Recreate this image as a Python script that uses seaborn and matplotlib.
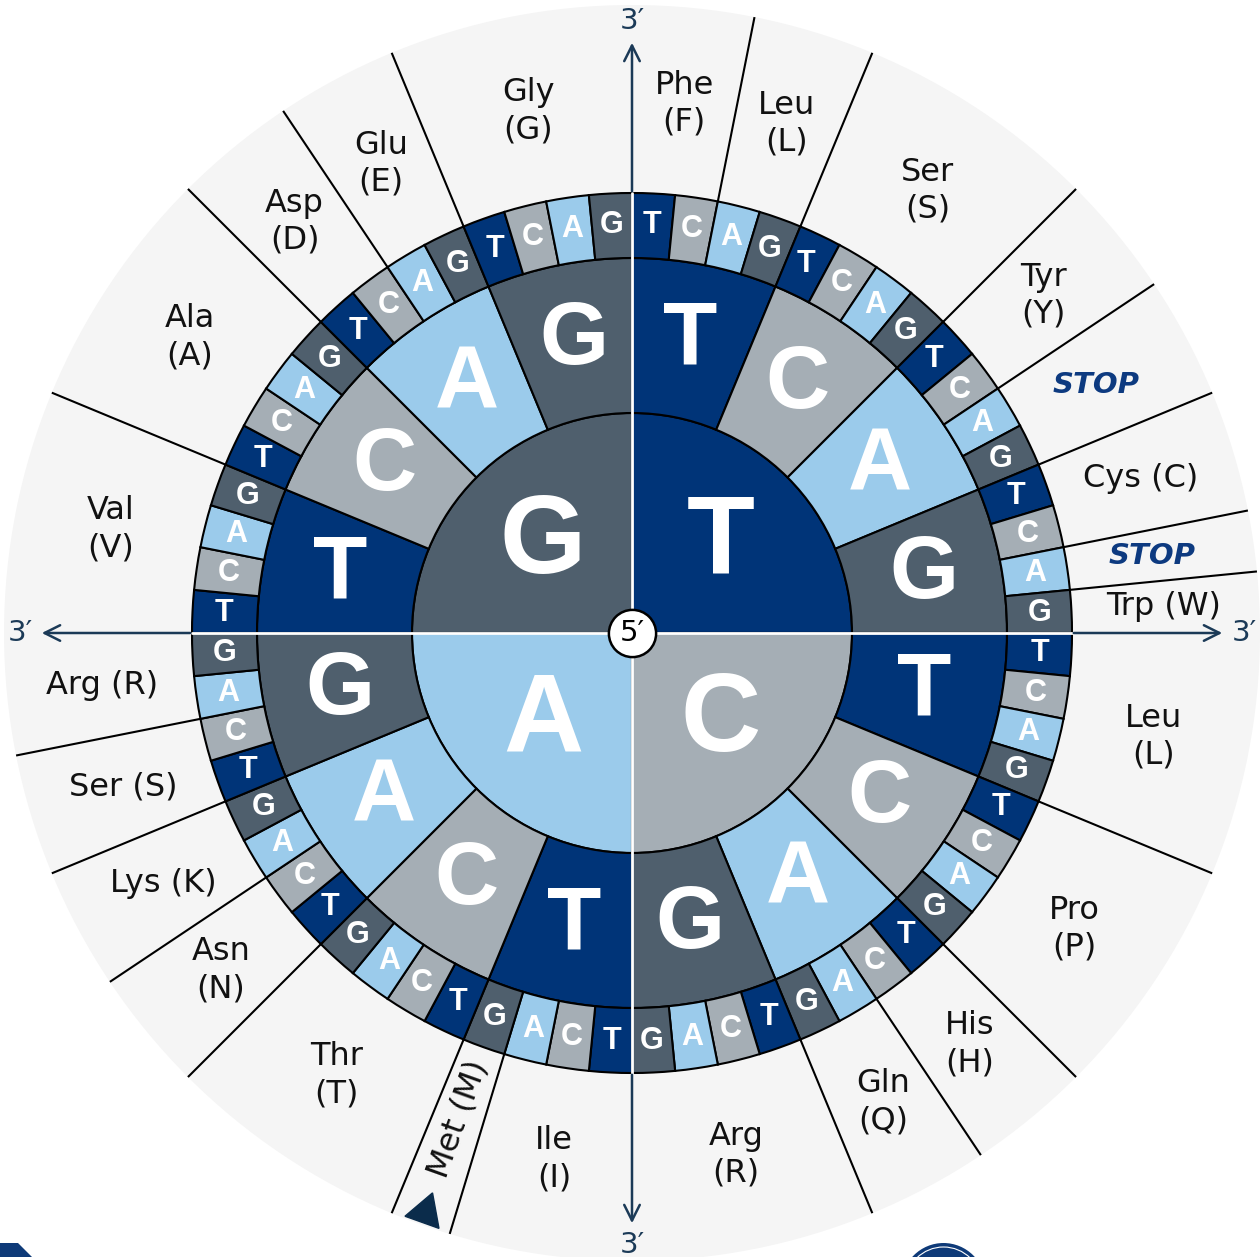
import numpy as np
import matplotlib
matplotlib.use('Agg')
from matplotlib import pyplot as plt
from matplotlib import patches, transforms
import seaborn as sns

# Bases in clockwise order, used for every ring
bases = ['T', 'C', 'A', 'G']
base_colors = sns.color_palette(['#003478', '#a5aeb5', '#9bcbeb', '#4f5f6d'])

# Amino acids clockwise from 12 o'clock, with the number of codons each covers
aa_labels = ['Phe\n(F)', 'Leu\n(L)', 'Ser\n(S)', 'Tyr\n(Y)', 'STOP', 'Cys (C)', 'STOP', 'Trp (W)',
             'Leu\n(L)', 'Pro\n(P)', 'His\n(H)', 'Gln\n(Q)', 'Arg\n(R)',
             'Ile\n(I)', 'Met (M)', 'Thr\n(T)', 'Asn\n(N)', 'Lys (K)', 'Ser (S)', 'Arg (R)',
             'Val\n(V)', 'Ala\n(A)', 'Asp\n(D)', 'Glu\n(E)', 'Gly\n(G)']
aa_codons = [2, 2, 4, 2, 2, 2, 1, 1,
             4, 4, 2, 2, 4,
             3, 1, 4, 2, 2, 2, 2,
             4, 4, 2, 2, 4]

ring1 = bases            # first base
ring2 = bases * 4        # second base
ring3 = bases * 16       # third base

# radii in pixels
r_in, r_mid, r_out, r_edge = 220, 375, 440, 628

navy = '#1b3a57'
stop_color = '#0d3a80'
bg_gray = '#f5f5f5'

sns.set_theme(style='white')
plt.rcParams['font.family'] = ['DejaVu Sans']

fig = plt.figure(figsize=(12.6, 12.57), dpi=100)
ax = fig.add_axes([4 / 1260, -4 / 1257, 1256 / 1260, 1256 / 1257], projection='polar')
ax.set_theta_zero_location('N')
ax.set_theta_direction(-1)
ax.set_rlim(0, r_edge)
ax.set_facecolor(bg_gray)
ax.grid(False)
ax.set_xticks([])
ax.set_yticks([])
ax.spines['polar'].set_visible(False)


def draw_ring(labels, bottom, top, fontsize, r_text):
    n = len(labels)
    width = 2 * np.pi / n
    theta = (np.arange(n) + 0.5) * width
    cols = [base_colors[bases.index(b)] for b in labels]
    ax.bar(theta, top - bottom, width=width, bottom=bottom, color=cols,
           edgecolor='black', linewidth=1.5, zorder=2)
    for t, b in zip(theta, labels):
        ax.text(t, r_text, b, ha='center', va='center', color='white',
                fontsize=fontsize, fontweight='bold', family='Liberation Sans', zorder=5)


draw_ring(ring1, 0, r_in, 80, 126)
draw_ring(ring2, r_in, r_mid, 64, 298)
draw_ring(ring3, r_mid, r_out, 22, 408)

# quadrant lines (white inside the rings) and 3' arrows outside
for q in range(4):
    t = q * np.pi / 2
    ax.plot([t, t], [0, r_out], color='white', lw=2, zorder=3)
    ax.annotate('', xy=(t, 593), xytext=(t, r_out - 1),
                arrowprops=dict(arrowstyle='->', color=navy, lw=1.8, mutation_scale=28),
                zorder=3)
    ax.text(t, 612, '3\u2032', ha='center', va='center', color=navy, fontsize=21, zorder=4)

# amino acid separators and labels
edges = np.concatenate([[0], np.cumsum(aa_codons)])
step = 2 * np.pi / 64
for e in edges[1:-1]:
    if e % 16 != 0:
        ax.plot([e * step, e * step], [r_out, r_edge], color='black', lw=1.5, zorder=2)

for lab, a, b in zip(aa_labels, edges[:-1], edges[1:]):
    t = (a + b) / 2 * step
    if lab == 'STOP':
        ax.text(t, 526, lab, ha='center', va='center', color=stop_color, fontsize=21,
                fontweight='bold', fontstyle='italic', zorder=4)
    elif lab.startswith('Met'):
        rot = 270 - np.degrees(t)
        ax.text(t, 516, lab, ha='center', va='center', rotation=rot, rotation_mode='anchor',
                fontsize=23, color='#111111', zorder=4)
        ax.plot(t, 615, marker=(3, 0, rot - 90), ms=30, color='#0b2c4b', zorder=4)
    else:
        ax.text(t, 532, lab, ha='center', va='center', multialignment='center',
                fontsize=23, color='#111111', linespacing=1.25, zorder=4)

# 5' marker in the centre
ax.plot(0, 0, marker='o', ms=34, mfc='white', mec='black', mew=1.8, zorder=6)
ax.text(0, 0, '5\u2032', ha='center', va='center', fontsize=21, color='black', zorder=7)

# cropped logo fragments at the bottom corners
fig.add_artist(patches.Circle((943.5, -28), 42, transform=transforms.IdentityTransform(),
                              facecolor='#0e3a78', edgecolor='none'))
fig.add_artist(patches.Circle((943.5, -28), 38, transform=transforms.IdentityTransform(),
                              facecolor='none', edgecolor='white', lw=0.8))
fig.add_artist(patches.Polygon([(-5, 14), (18, 14), (32, 0), (32, -5), (-5, -5)],
                               transform=transforms.IdentityTransform(),
                               facecolor='#0e3a78', edgecolor='none'))

fig.savefig('out.png', dpi=100, facecolor='white')
